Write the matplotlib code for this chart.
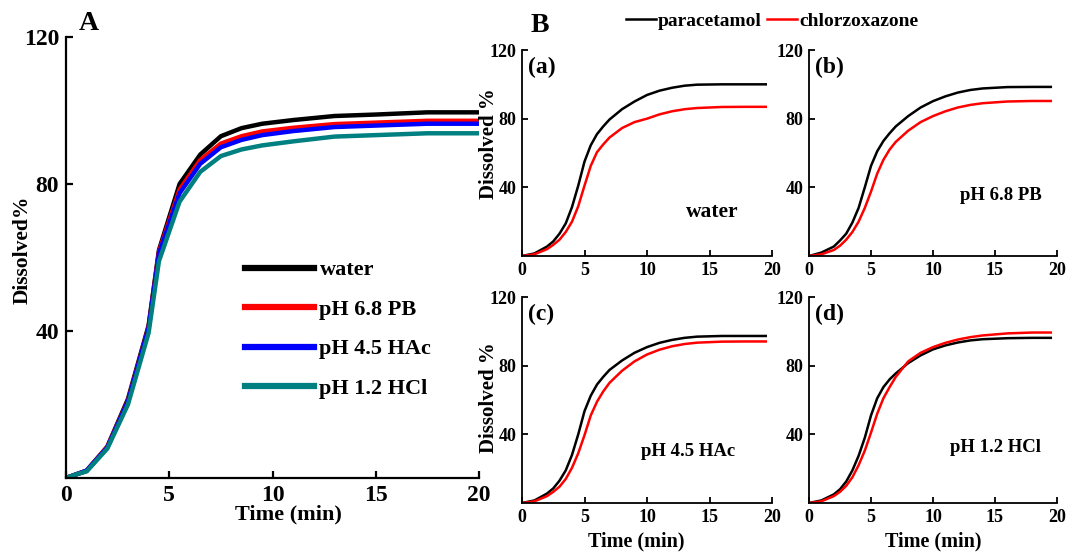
import matplotlib
matplotlib.use("Agg")
import matplotlib.pyplot as plt
from matplotlib.lines import Line2D

plt.rcParams['font.family'] = ['Liberation Serif', 'DejaVu Serif']
plt.rcParams['font.weight'] = 'bold'
plt.rcParams['axes.labelweight'] = 'bold'

# ---------------- Panel A data ----------------
time_a = [0, 0.5, 1, 2, 3, 4, 4.5, 5.5, 6.5, 7.5, 8.5, 9.5, 11, 13, 15, 17.5, 20]
water = [0, 1, 2, 8.5, 21.5, 41.5, 62, 80, 88, 93, 95.2, 96.4, 97.4, 98.5, 98.9, 99.5, 99.5]
pb68 = [0, 1, 2, 8.5, 21, 41, 61.5, 78.5, 86.5, 91, 93, 94.3, 95.3, 96.3, 96.7, 97.2, 97.2]
hac45 = [0, 1, 2, 8.3, 20.8, 40.8, 61, 77.5, 85.5, 90, 92, 93.3, 94.4, 95.5, 95.9, 96.4, 96.4]
hcl12 = [0, 1, 1.8, 8, 20, 39.5, 59, 75.2, 83.3, 87.6, 89.4, 90.5, 91.6, 92.9, 93.3, 93.8, 93.8]
series_a = [("water", water, "#000000"),
            ("pH 6.8 PB", pb68, "#ff0000"),
            ("pH 4.5 HAc", hac45, "#0000ff"),
            ("pH 1.2 HCl", hcl12, "#008080")]

# ---------------- Panel B data ----------------
time_b = [0, 1, 2, 2.5, 3, 3.5, 4, 4.5, 5, 5.5, 6, 6.5, 7, 8, 9, 10, 11, 12, 13, 14, 16, 18, 19.5]
para_a = [0, 1.5, 5.5, 8.5, 13, 19, 28.5, 41, 55, 64.5, 71, 75.5, 79.5, 85.5, 90, 93.8, 96.3, 98, 99.2, 99.8, 100, 100, 100]
chlor_a = [0, 1, 4, 6.5, 9.5, 14, 20, 29, 41, 52.5, 60.5, 65, 69, 74.5, 78, 80, 82.5, 84.3, 85.5, 86.2, 86.8, 86.9, 86.9]
para_b = [0, 2, 5.5, 9, 13, 19.5, 28, 40, 52.5, 61, 67, 71.5, 75.5, 81.5, 86.5, 90.2, 93, 95.2, 96.7, 97.6, 98.4, 98.5, 98.5]
chlor_b = [0, 1, 3.5, 6, 9.5, 14, 20, 28, 37.5, 48, 56, 62, 66.5, 73, 78, 81.5, 84.3, 86.5, 88, 89, 90, 90.3, 90.3]
para_c = [0, 1.5, 5.5, 8.5, 13, 19, 28, 40, 53.5, 62.5, 69, 73.5, 77.5, 83, 87.5, 90.8, 93.3, 95, 96.2, 96.9, 97.3, 97.3, 97.3]
chlor_c = [0, 1, 4, 6.5, 9.5, 14, 20.5, 29, 39.5, 51, 59, 65, 70, 77, 82.5, 86.5, 89.3, 91.3, 92.6, 93.4, 94, 94.1, 94.1]
para_d = [0, 1.5, 5, 8, 12.5, 19, 27.5, 38, 51, 61, 67.5, 72, 75.5, 81.5, 86, 89.5, 91.8, 93.5, 94.7, 95.4, 96, 96.2, 96.2]
chlor_d = [0, 1, 4, 6.5, 10, 15, 22, 30.5, 41, 52, 61, 67.5, 73.5, 82.5, 87.5, 90.8, 93.3, 95.2, 96.6, 97.6, 98.8, 99.3, 99.3]

sub_labels = ["(a)", "(b)", "(c)", "(d)"]
media = ["water", "pH 6.8 PB", "pH 4.5 HAc", "pH 1.2 HCl"]
para_all = [para_a, para_b, para_c, para_d]
chlor_all = [chlor_a, chlor_b, chlor_c, chlor_d]

W, H = 1070, 552
fig = plt.figure(figsize=(W / 100, H / 100), dpi=100)


def px_axes(l, t, r, b):
    return fig.add_axes([l / W, 1 - b / H, (r - l) / W, (b - t) / H])


def style(ax, lw, fs):
    for s in ("top", "right"):
        ax.spines[s].set_visible(False)
    for s in ("left", "bottom"):
        ax.spines[s].set_linewidth(lw)
    ax.tick_params(direction="in", length=5, width=lw, labelsize=fs, pad=5)
    for lab in ax.get_xticklabels() + ax.get_yticklabels():
        lab.set_fontweight("bold")


# ---------------- Panel A ----------------
axA = px_axes(66, 37, 479, 478)
for name, vals, col in series_a:
    axA.plot(time_a, vals, color=col, lw=3.2, label=name, solid_joinstyle="round")
axA.set_xlim(0, 20)
axA.set_ylim(0, 120)
axA.set_xticks([0, 5, 10, 15, 20])
axA.set_yticks([40, 80, 120])
style(axA, 1.6, 17)
axA.set_xlabel("Time (min)", fontsize=16, fontweight="bold")
axA.xaxis.set_label_coords(0.5375, -0.083)
axA.xaxis.label.set_verticalalignment("center")
axA.set_ylabel("Dissolved%", fontsize=15.5, fontweight="bold")
axA.yaxis.set_label_coords(-0.104, 0.517)
axA.yaxis.label.set_verticalalignment("center")
axA.legend(loc="center left", bbox_to_anchor=(0.385, 0.337), frameon=False,
           prop={"size": 16, "weight": "bold"}, handlelength=3.1,
           handletextpad=0.25, labelspacing=0.85)
for lh in axA.get_legend().get_lines():
    lh.set_linewidth(4.5)
fig.text(89 / W, 1 - 23 / H, "A", fontsize=20, fontweight="bold", ha="center", va="center")

# ---------------- Panel B ----------------
boxes = [(522, 50, 772, 256), (809, 50, 1057, 256),
         (522, 297, 772, 503), (809, 297, 1057, 503)]
text_pos = [(0.76, 0.214), (0.774, 0.296), (0.664, 0.248), (0.754, 0.267)]
text_size = [15.5, 13.5, 13.5, 13.5]
ylab_y = {0: 0.544, 2: 0.512}
xlab_x = {2: 0.456, 3: 0.5}
for i in range(4):
    ax = px_axes(*boxes[i])
    ax.plot(time_b, para_all[i], color="#000000", lw=1.8, solid_joinstyle="round")
    ax.plot(time_b, chlor_all[i], color="#ff0000", lw=1.8, solid_joinstyle="round")
    ax.set_xlim(0, 20)
    ax.set_ylim(0, 120)
    ax.set_xticks([0, 5, 10, 15, 20])
    ax.set_yticks([40, 80, 120])
    style(ax, 1.3, 13)
    ax.tick_params(length=4, pad=4)
    ax.text(0.025, 0.965, sub_labels[i], transform=ax.transAxes, fontsize=17,
            fontweight="bold", va="top", ha="left")
    ax.text(text_pos[i][0], text_pos[i][1], media[i], transform=ax.transAxes,
            fontsize=text_size[i], fontweight="bold", ha="center", va="center")
    if i in ylab_y:
        ax.set_ylabel("Dissolved %", fontsize=15, fontweight="bold")
        ax.yaxis.set_label_coords(-0.13, ylab_y[i])
        ax.yaxis.label.set_verticalalignment("center")
    if i in xlab_x:
        ax.set_xlabel("Time (min)", fontsize=14.5, fontweight="bold")
        ax.xaxis.set_label_coords(xlab_x[i], -0.189)
        ax.xaxis.label.set_verticalalignment("center")

fig.text(540 / W, 1 - 25 / H, "B", fontsize=20, fontweight="bold", ha="center", va="center")
handles = [Line2D([], [], color="#000000", lw=1.8), Line2D([], [], color="#ff0000", lw=1.8)]
fig.legend(handles, ["paracetamol", "chlorzoxazone"], ncol=2, loc="center",
           bbox_to_anchor=(772 / W, 1 - 21 / H), frameon=False,
           prop={"size": 14, "weight": "bold"}, handlelength=1.55,
           handletextpad=0.1, columnspacing=0.25)

fig.savefig("out.png", dpi=100)
